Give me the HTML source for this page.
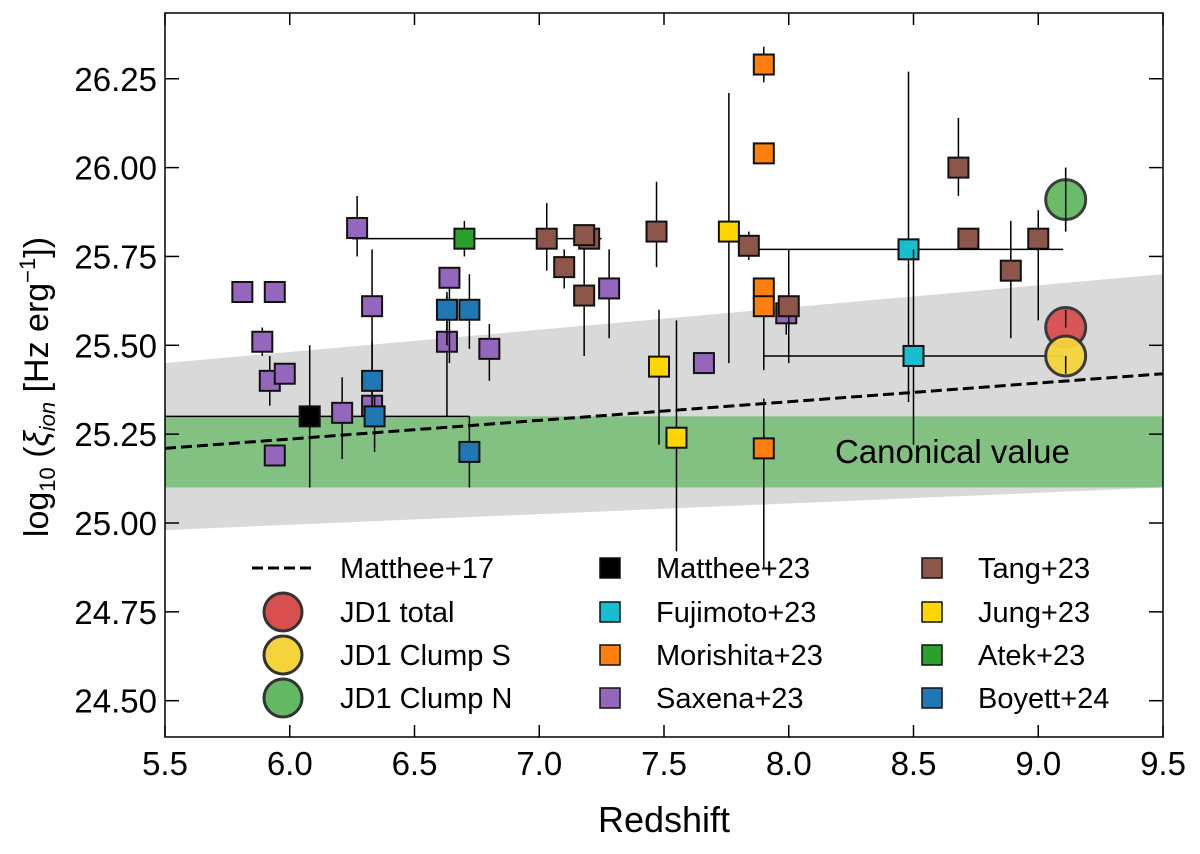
<!DOCTYPE html>
<html><head><meta charset="utf-8"><style>
body{margin:0;background:#fff;}
svg text{font-family:"Liberation Sans","DejaVu Sans",sans-serif;}
</style></head><body>
<svg id="chart" width="1200" height="849" xmlns="http://www.w3.org/2000/svg"></svg>
<script>
// [z, value, errLow, errHigh, xLow, xHigh]
const saxena=[[5.81,25.65],[5.94,25.65],[5.89,25.51,25.47,25.55],[5.92,25.40,25.33,25.47],[5.98,25.42],[5.94,25.19],[6.27,25.83,25.75,25.92],[6.33,25.61,25.30,25.77],[6.33,25.33],[6.21,25.31,25.18,25.41],[6.63,25.51,25.30,25.64],[6.64,25.69,25.45,25.69],[6.80,25.49,25.40,25.56],[7.28,25.66,25.52,25.77],[7.66,25.45],[7.99,25.59,25.53,25.60]];
const boyett=[[6.33,25.40,25.29,25.51],[6.34,25.30,25.20,25.36],[6.63,25.60,25.50,25.65],[6.72,25.60,25.49,25.70],[6.72,25.20,25.10,25.30]];
const matthee23=[[6.08,25.30,25.10,25.50,5.5,6.72]];
const atek=[[6.70,25.80,25.75,25.85,6.25,7.25]];
const tang=[[7.03,25.80,25.71,25.90],[7.10,25.72,25.66,25.77],[7.18,25.64,25.47,25.80],[7.20,25.80],[7.18,25.81],[7.47,25.82,25.72,25.96],[7.84,25.78,25.74,25.82],[8.00,25.61,25.45,25.77],[8.68,26.00,25.92,26.14],[8.72,25.80],[8.89,25.71,25.52,25.85],[9.00,25.80,25.57,25.88]];
const jung=[[7.48,25.44,25.22,25.60],[7.55,25.24,24.92,25.57],[7.76,25.82,25.45,26.21]];
const morishita=[[7.90,26.29,26.24,26.34],[7.90,26.04],[7.90,25.66,25.59,25.66],[7.90,25.61,25.43,25.61],[7.90,25.21,24.87,25.35]];
const fujimoto=[[8.48,25.77,25.34,26.27,7.88,9.10],[8.50,25.47,25.22,25.77,7.90,9.10]];
const jd1=[[9.11,25.55,25.55,25.60,'#d94f4f','jd1-total'],[9.11,25.47,25.42,25.47,'#f5d43b','jd1-clump-s'],[9.11,25.91,25.82,26.00,'#63b863','jd1-clump-n']];
const xTicks=[5.5,6.0,6.5,7.0,7.5,8.0,8.5,9.0,9.5];
const yTicks=[24.50,24.75,25.00,25.25,25.50,25.75,26.00,26.25];
const mattheeLine=[[5.5,25.21],[9.5,25.42]];
const grayBand=[[5.5,24.98,25.45],[9.5,25.10,25.70]];
const canonical=[25.10,25.30];

const L=165,R=1163,T=13,B=737;
const X=z=>L+(z-5.5)*(R-L)/4;
const Y=v=>523-(v-25)*355.4;
const svg=document.getElementById('chart');
const NS='http://www.w3.org/2000/svg';
function mk(tag,at,parent){const e=document.createElementNS(NS,tag);for(const k in at)e.setAttribute(k,at[k]);(parent||svg).appendChild(e);return e;}

let e;
e=mk('polygon',{points:`${X(grayBand[0][0])},${Y(grayBand[0][1])} ${X(grayBand[1][0])},${Y(grayBand[1][1])} ${X(grayBand[1][0])},${Y(grayBand[1][2])} ${X(grayBand[0][0])},${Y(grayBand[0][2])}`,fill:'#d9d9d9'});


e=mk('rect',{x:L,y:Y(canonical[1]),width:R-L,height:Y(canonical[0])-Y(canonical[1]),fill:'rgb(44,170,44)',opacity:0.5});


e=mk('text',{x:835,y:463,'font-size':33,fill:'#000'});e.textContent='Canonical value';


e=mk('line',{x1:X(mattheeLine[0][0]),y1:Y(mattheeLine[0][1]),x2:X(mattheeLine[1][0]),y2:Y(mattheeLine[1][1]),stroke:'#000','stroke-width':3,'stroke-dasharray':'11,5'});



function series(arr,color,name,circle){
  arr.forEach(d=>{
    const g=mk('g',{});
    
    
    if(d.length>=6 && typeof d[4]==='number') mk('line',{x1:X(d[4]),x2:X(d[5]),y1:Y(d[1]),y2:Y(d[1]),stroke:'#000','stroke-width':1.5},g);
    if(d.length>=4 && typeof d[2]==='number') mk('line',{x1:X(d[0]),x2:X(d[0]),y1:Y(d[2]),y2:Y(d[3]),stroke:'#000','stroke-width':1.5},g);
    if(circle) mk('circle',{cx:X(d[0]),cy:Y(d[1]),r:20,fill:d[4],stroke:'#333','stroke-width':3,opacity:0.95},g);
    else mk('rect',{x:X(d[0])-10,y:Y(d[1])-10,width:20,height:20,fill:color,stroke:'#111','stroke-width':2},g);
    if(circle && typeof d[2]==='number') mk('line',{x1:X(d[0]),x2:X(d[0]),y1:Y(d[2]),y2:Y(d[3]),stroke:'#000','stroke-width':1.5},g);
  });
}
series(matthee23,'#000','matthee23');
series(atek,'#2ca02c','atek23');
series(saxena,'#9467bd','saxena23');
series(boyett,'#1f77b4','boyett24');
series(tang,'#8c564b','tang23');
series(jung,'#ffd700','jung23');
series(morishita,'#ff7f0e','morishita23');
series(fujimoto,'#17becf','fujimoto23');
series(jd1,null,'jd1',true);

e=mk('rect',{x:L,y:T,width:R-L,height:B-T,fill:'none',stroke:'#000','stroke-width':1.5});


xTicks.forEach(t=>{
  mk('line',{x1:X(t),x2:X(t),y1:B,y2:B-12,stroke:'#000','stroke-width':1.5});
  mk('line',{x1:X(t),x2:X(t),y1:T,y2:T+12,stroke:'#000','stroke-width':1.5});
  const tx=mk('text',{x:X(t),y:B+38,'font-size':33,'text-anchor':'middle'});tx.textContent=t.toFixed(1);
  
  
});
yTicks.forEach(t=>{
  mk('line',{x1:L,x2:L+14,y1:Y(t),y2:Y(t),stroke:'#000','stroke-width':1.5});
  mk('line',{x1:R,x2:R-14,y1:Y(t),y2:Y(t),stroke:'#000','stroke-width':1.5});
  const tx=mk('text',{x:L-8,y:Y(t)+12,'font-size':33,'text-anchor':'end'});tx.textContent=t.toFixed(2);
  
  
});
e=mk('text',{x:664,y:832,'font-size':36,'text-anchor':'middle'});e.textContent='Redshift';


e=mk('text',{x:0,y:0,'font-size':34,'text-anchor':'middle',transform:'translate(48,387) rotate(-90)'});
e.innerHTML='log<tspan font-size="22" dy="7">10</tspan><tspan dy="-7"> (</tspan><tspan font-style="italic">ξ</tspan><tspan font-size="22" font-style="italic" dy="7">ion</tspan><tspan dy="-7"> [Hz erg</tspan><tspan font-size="22" dy="-13">−1</tspan><tspan dy="13">])</tspan>';



const legendRows=[
 [[252,568,'line',null,'Matthee+17'],[590,568,'sq','#000','Matthee+23'],[912,568,'sq','#8c564b','Tang+23']],
 [[252,612,'circ','#d94f4f','JD1 total'],[590,612,'sq','#17becf','Fujimoto+23'],[912,612,'sq','#ffd700','Jung+23']],
 [[252,655,'circ','#f5d43b','JD1 Clump S'],[590,655,'sq','#ff7f0e','Morishita+23'],[912,655,'sq','#2ca02c','Atek+23']],
 [[252,698,'circ','#63b863','JD1 Clump N'],[590,698,'sq','#9467bd','Saxena+23'],[912,698,'sq','#1f77b4','Boyett+24']]
];
legendRows.flat().forEach(it=>{
  const [x,y,kind,c,label]=it;
  const g=mk('g',{});
  
  
  if(kind==='line') mk('line',{x1:x,x2:x+62,y1:y,y2:y,stroke:'#000','stroke-width':3,'stroke-dasharray':'11,5'},g);
  else if(kind==='sq') mk('rect',{x:x+10,y:y-10,width:20,height:20,fill:c,stroke:'#111','stroke-width':1.5},g);
  else mk('circle',{cx:x+31,cy:y,r:19,fill:c,stroke:'#333','stroke-width':3},g);
  const t=mk('text',{x:kind==='sq'?x+66:x+88,y:y+10,'font-size':29},g);t.textContent=label;
});
</script>
</body></html>
